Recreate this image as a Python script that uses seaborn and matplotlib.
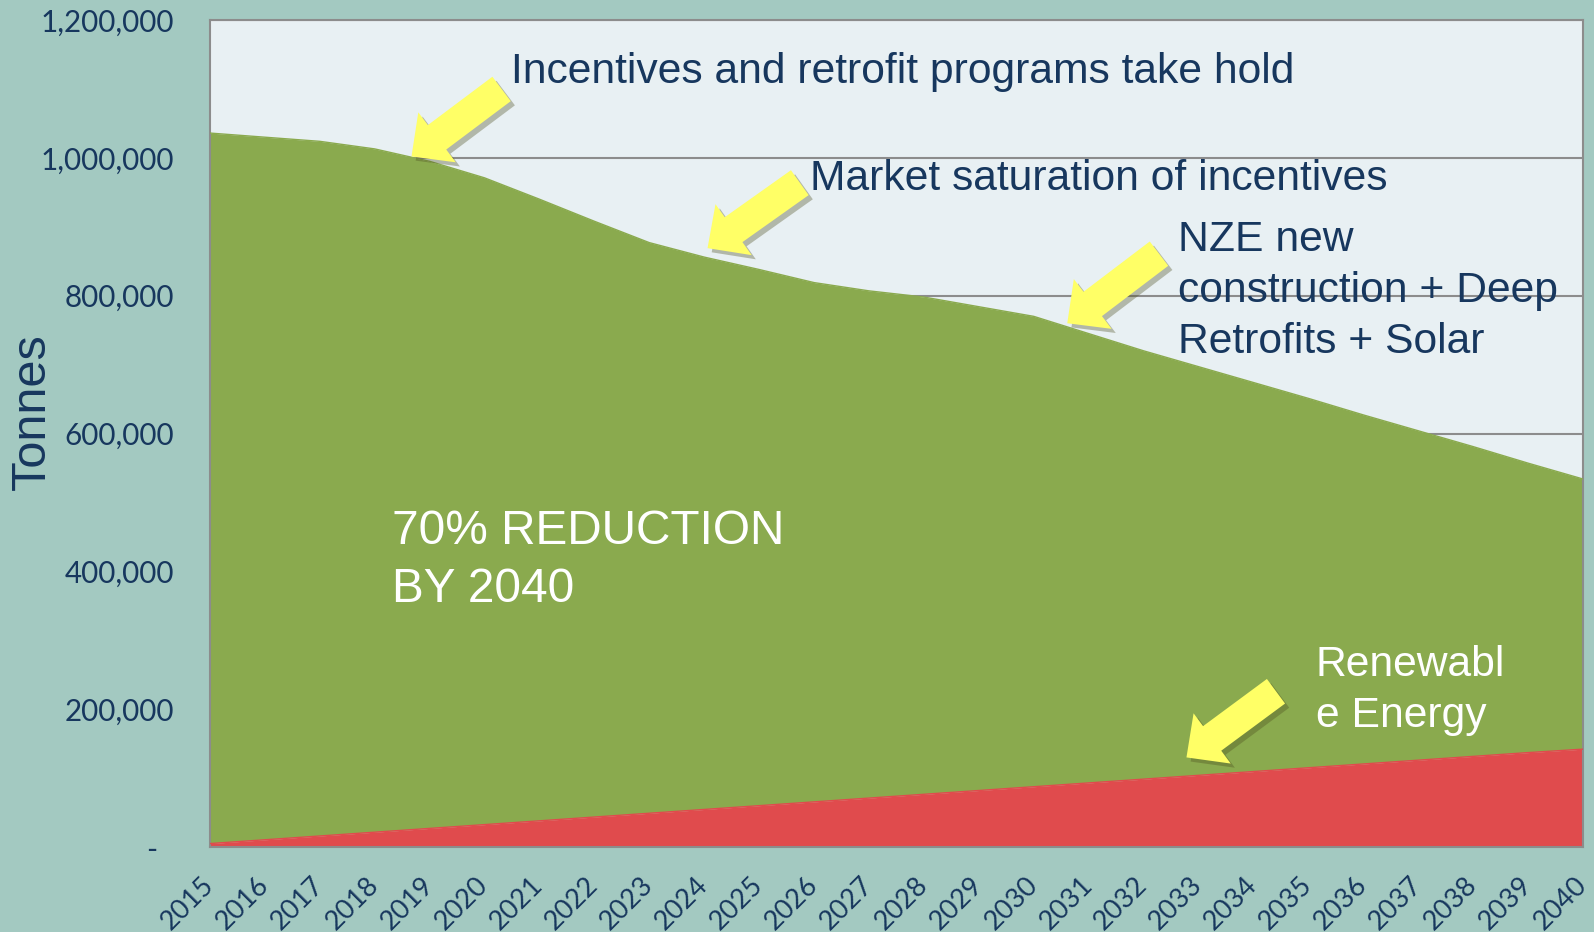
import matplotlib
matplotlib.use("Agg")
import matplotlib.pyplot as plt
import matplotlib.patheffects as pe
import matplotlib.transforms as mtransforms
from matplotlib.ticker import FuncFormatter, MultipleLocator
import numpy as np
import pandas as pd
import seaborn as sns

# data (tonnes)
years = list(range(2015, 2041))
total_emissions = [1036000, 1030000, 1024000, 1013000, 995000, 971000, 940000, 908000,
                   877000, 856000, 838000, 819000, 807000, 798000, 784000, 770000,
                   745000, 720000, 697000, 674000, 651000, 627000, 604000, 581000,
                   557000, 534000]
renewable = [5000, 10500, 16000, 21500, 27000, 32500, 38000, 43500, 49000, 54500,
             60000, 65500, 71000, 76500, 82000, 87500, 93000, 98500, 104000, 109500,
             115000, 120500, 126000, 131500, 137000, 142000]

df = pd.DataFrame({"year": years, "total": total_emissions, "renewable": renewable})

bg = "#A3C9C1"
plot_bg = "#E8F0F3"
green = "#8AAA4E"
red = "#E04B4D"
navy = "#17375E"
yellow = "#FFFF66"

sns.set_theme(style="white")
plt.rcParams["font.family"] = ["Lato", "DejaVu Sans"]

fig = plt.figure(figsize=(15.94, 9.32), dpi=100, facecolor=bg)
ax = fig.add_axes([0.1317, 0.0912, 0.8614, 0.8873])
ax.set_facecolor(plot_bg)

ax.fill_between(df.year, df.renewable, df.total, color=green, lw=0, zorder=2)
ax.fill_between(df.year, 0, df.renewable, color=red, lw=0, zorder=2)
sns.lineplot(data=df, x="year", y="total", color=green, lw=1, ax=ax, zorder=3)
sns.lineplot(data=df, x="year", y="renewable", color=red, lw=1, ax=ax, zorder=3)

ax.set_xlim(2015, 2040)
ax.set_ylim(0, 1200000)
ax.yaxis.set_major_locator(MultipleLocator(200000))
ax.yaxis.set_major_formatter(FuncFormatter(lambda v, p: "-  " if v == 0 else f"{v:,.0f}"))
ax.set_xticks(years)
ax.set_xticklabels([str(y) for y in years], rotation=45, ha="right",
                   rotation_mode="anchor", fontsize=19.5, color=navy)
ax.tick_params(axis="x", length=0, pad=18)
ax.tick_params(axis="y", length=0, pad=26, labelsize=21.3, labelcolor=navy)
shift = mtransforms.ScaledTranslation(-9 / 100, 0, fig.dpi_scale_trans)
for lab in ax.get_xticklabels():
    lab.set_transform(lab.get_transform() + shift)
ax.grid(axis="y", color="#8C8C8C", lw=1.5)
ax.set_axisbelow(True)
for s in ax.spines.values():
    s.set_color("#8C8C8C")
    s.set_linewidth(1.5)
ax.set_xlabel("")
ax.set_ylabel("")

fig.text(0.0205, 0.558, "Tonnes", rotation=90, ha="center", va="center",
         fontsize=35, color=navy, family="Liberation Sans")

# annotations
txt = dict(family="Liberation Sans", fontsize=30.7, ha="left", va="center", linespacing=1.35)
ax.text(2020.48, 1124000, "Incentives and retrofit programs take hold", color=navy, **txt)
ax.text(2025.93, 969000, "Market saturation of incentives", color=navy, **txt)
ax.text(2032.63, 807000, "NZE new\nconstruction + Deep\nRetrofits + Solar", color=navy, **txt)
ax.text(2035.13, 227000, "Renewabl\ne Energy", color="white", **txt)
ax.text(2018.31, 416000, "70% REDUCTION\nBY 2040", color="white",
        family="Liberation Sans", fontsize=34.4, ha="left", va="center", linespacing=1.38)

arrows = [((2018.67, 1002000), (2020.31, 1100000)),
          ((2024.06, 869000), (2025.74, 964000)),
          ((2030.61, 760000), (2032.28, 861000)),
          ((2032.78, 130000), (2034.41, 226000))]
for tip, tail in arrows:
    ax.annotate("", xy=tip, xytext=tail,
                arrowprops=dict(arrowstyle="simple,head_length=23,head_width=45,tail_width=22",
                                mutation_scale=1, fc=yellow, ec="none",
                                shrinkA=0, shrinkB=0,
                                path_effects=[pe.withSimplePatchShadow(offset=(3, -3), alpha=0.35)]),
                zorder=5)

fig.savefig("out.png", dpi=100, facecolor=bg)
